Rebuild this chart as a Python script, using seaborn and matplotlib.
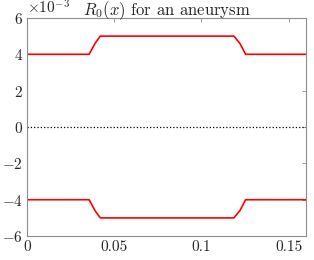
import numpy as np
import pandas as pd
import matplotlib
matplotlib.use('Agg')
import matplotlib.pyplot as plt
import seaborn as sns
from matplotlib.ticker import ScalarFormatter

# wall radius profile (units of 1e-3)
x_pts = [0.0, 0.0356, 0.0390, 0.0420, 0.1186, 0.1220, 0.1253, 0.16]
r_pts = [4.0, 4.0, 4.6, 5.0, 5.0, 4.6, 4.0, 4.0]
zero_x = [0.0, 0.16]
zero_y = [0.0, 0.0]

upper = pd.DataFrame({'x': x_pts, 'R': np.array(r_pts) * 1e-3})
lower = pd.DataFrame({'x': x_pts, 'R': -np.array(r_pts) * 1e-3})
axis_line = pd.DataFrame({'x': zero_x, 'R': zero_y})

sns.set_style('white')
plt.rcParams['font.family'] = ['serif']
plt.rcParams['font.serif'] = ['cmr10', 'DejaVu Serif']
plt.rcParams['mathtext.fontset'] = 'cm'
plt.rcParams['axes.formatter.use_mathtext'] = True
plt.rcParams['axes.unicode_minus'] = False

fig = plt.figure(figsize=(3.14, 2.60), dpi=100)
ax = fig.add_axes([0.086, 0.092, 0.889, 0.839])

sns.lineplot(data=upper, x='x', y='R', color='red', linewidth=1.2, ax=ax, sort=False)
sns.lineplot(data=lower, x='x', y='R', color='red', linewidth=1.2, ax=ax, sort=False)
sns.lineplot(data=axis_line, x='x', y='R', color='black', linewidth=0.9, linestyle=':', ax=ax)

ax.set_xlim(0, 0.16)
ax.set_ylim(-6e-3, 6e-3)
ax.set_xticks([0, 0.05, 0.1, 0.15])
ax.set_xticklabels(['0', '0.05', '0.1', '0.15'])
ax.set_yticks([-6e-3, -4e-3, -2e-3, 0, 2e-3, 4e-3, 6e-3])
fmt = ScalarFormatter(useMathText=True)
fmt.set_powerlimits((-2, 2))
ax.yaxis.set_major_formatter(fmt)
ax.set_xlabel('')
ax.set_ylabel('')

for s in ax.spines.values():
    s.set_visible(True)
    s.set_color('#8c8c8c')
    s.set_linewidth(0.8)
ax.tick_params(direction='in', length=3, width=0.6, color='#8c8c8c',
               top=True, right=True, labelsize=11, labelcolor='#262626', pad=3)
ax.yaxis.get_offset_text().set_fontsize(11)
ax.yaxis.get_offset_text().set_color('#262626')

ax.set_title(r'$R_0(x)$ for an aneurysm', fontsize=12, color='#262626', pad=2)

fig.savefig('out.png', dpi=100)
